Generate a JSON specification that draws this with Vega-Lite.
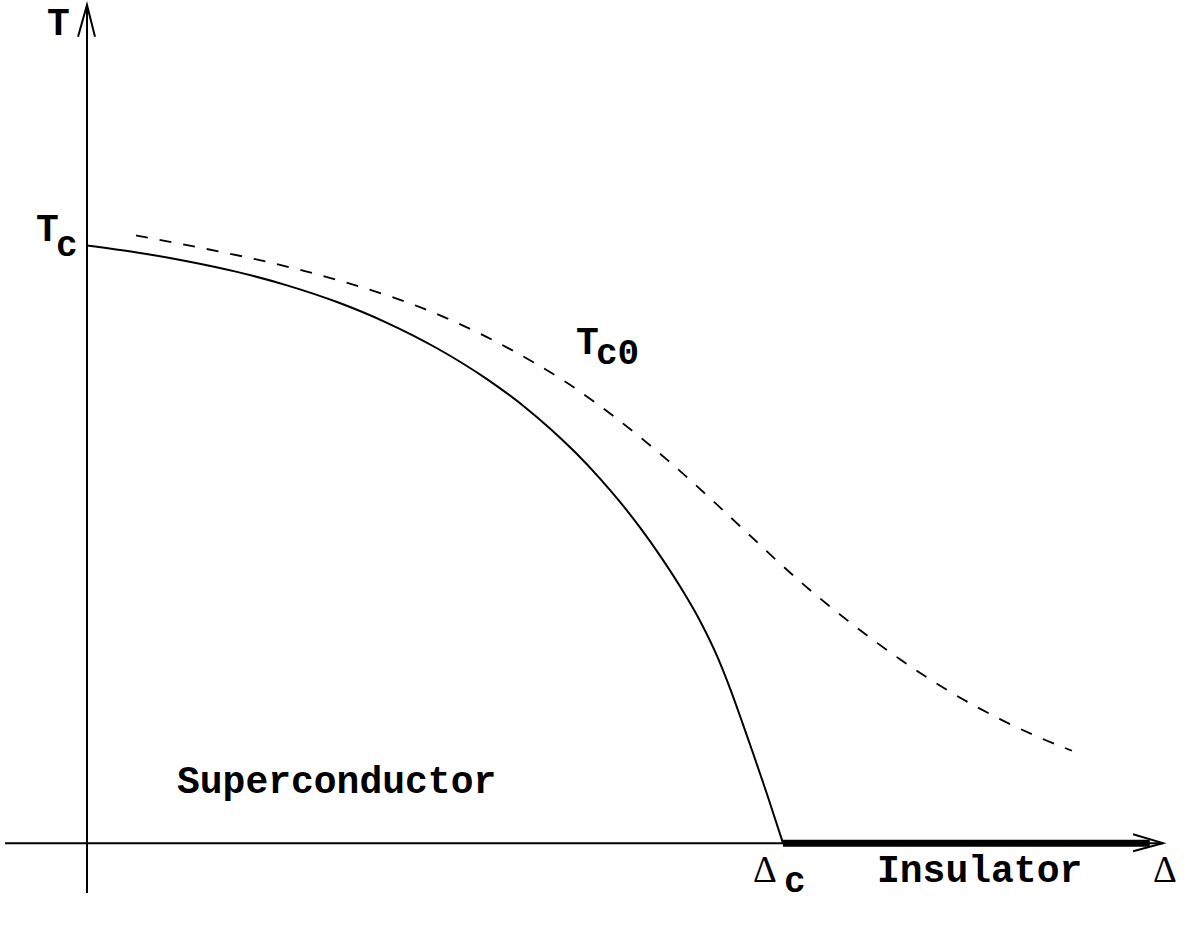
{
  "$schema": "https://vega.github.io/schema/vega-lite/v6.json",
  "width": 1187,
  "height": 926,
  "autosize": {"type": "fit", "contains": "padding"},
  "padding": 0,
  "background": "white",
  "config": {"view": {"stroke": null}},
  "datasets": {
    "axes": [
      {"part": "xaxis", "i": 0, "delta": -0.1178, "t": 0},
      {"part": "xaxis", "i": 1, "delta": 1.546, "t": 0},
      {"part": "yaxis", "i": 0, "delta": 0, "t": -0.0835},
      {"part": "yaxis", "i": 1, "delta": 0, "t": 1.4023},
      {"part": "xarrow", "i": 0, "delta": 1.503, "t": 0.015},
      {"part": "xarrow", "i": 1, "delta": 1.546, "t": 0},
      {"part": "xarrow", "i": 2, "delta": 1.503, "t": -0.0134},
      {"part": "yarrow", "i": 0, "delta": -0.0129, "t": 1.349},
      {"part": "yarrow", "i": 1, "delta": 0, "t": 1.4023},
      {"part": "yarrow", "i": 2, "delta": 0.0115, "t": 1.349}
    ],
    "insulator": [
      {"delta": 1.0, "t": 0},
      {"delta": 1.527, "t": 0}
    ],
    "tc": [
      {"delta": 0.0, "t": 1.0},
      {"delta": 0.0718, "t": 0.9883},
      {"delta": 0.1437, "t": 0.9737},
      {"delta": 0.2155, "t": 0.9558},
      {"delta": 0.2874, "t": 0.9332},
      {"delta": 0.3592, "t": 0.9053},
      {"delta": 0.431, "t": 0.8706},
      {"delta": 0.5029, "t": 0.828},
      {"delta": 0.5747, "t": 0.7763},
      {"delta": 0.6293, "t": 0.7294},
      {"delta": 0.6652, "t": 0.6938},
      {"delta": 0.7011, "t": 0.6543},
      {"delta": 0.7371, "t": 0.61},
      {"delta": 0.7658, "t": 0.571},
      {"delta": 0.7945, "t": 0.5282},
      {"delta": 0.8233, "t": 0.4811},
      {"delta": 0.852, "t": 0.4297},
      {"delta": 0.8807, "t": 0.3721},
      {"delta": 0.9052, "t": 0.3132},
      {"delta": 0.9239, "t": 0.2589},
      {"delta": 0.9425, "t": 0.1987},
      {"delta": 0.9569, "t": 0.1508},
      {"delta": 0.977, "t": 0.0823},
      {"delta": 1.0, "t": 0.0}
    ],
    "tc0": [
      {"delta": 0.0704, "t": 1.0167},
      {"delta": 0.1624, "t": 0.9963},
      {"delta": 0.2399, "t": 0.9775},
      {"delta": 0.3118, "t": 0.9574},
      {"delta": 0.3836, "t": 0.9341},
      {"delta": 0.4784, "t": 0.8967},
      {"delta": 0.533, "t": 0.8699},
      {"delta": 0.5747, "t": 0.8467},
      {"delta": 0.6178, "t": 0.8202},
      {"delta": 0.6897, "t": 0.7701},
      {"delta": 0.7615, "t": 0.71},
      {"delta": 0.8333, "t": 0.6416},
      {"delta": 0.9052, "t": 0.5664},
      {"delta": 0.9526, "t": 0.5147},
      {"delta": 1.0244, "t": 0.4379},
      {"delta": 1.0963, "t": 0.3694},
      {"delta": 1.1681, "t": 0.3077},
      {"delta": 1.2399, "t": 0.2534},
      {"delta": 1.3118, "t": 0.2075},
      {"delta": 1.3621, "t": 0.18},
      {"delta": 1.4152, "t": 0.1546}
    ],
    "labels": [
      {"label": "T", "delta": -0.0575, "t": 1.3523},
      {"label": "T", "delta": -0.0733, "t": 1.0067},
      {"label": "T", "delta": 0.7026, "t": 0.818},
      {"label": "Superconductor", "delta": 0.1293, "t": 0.0835},
      {"label": "Insulator", "delta": 1.1351, "t": -0.0651}
    ],
    "subs": [
      {"label": "c", "delta": -0.0445, "t": 0.9816},
      {"label": "c0", "delta": 0.7313, "t": 0.8013},
      {"label": "c", "delta": 1.0014, "t": -0.0818}
    ],
    "greek": [
      {"label": "Δ", "delta": 0.9569, "t": -0.0651},
      {"label": "Δ", "delta": 1.5316, "t": -0.0651}
    ]
  },
  "encoding": {
    "x": {"field": "delta", "type": "quantitative", "scale": {"domain": [-0.125, 1.5805], "nice": false, "zero": false}, "axis": null},
    "y": {"field": "t", "type": "quantitative", "scale": {"domain": [-0.1386, 1.4073], "nice": false, "zero": false}, "axis": null}
  },
  "layer": [
    {
      "data": {"name": "axes"},
      "mark": {"type": "line", "color": "black", "strokeWidth": 2},
      "encoding": {"detail": {"field": "part"}, "order": {"field": "i", "type": "quantitative"}}
    },
    {
      "data": {"name": "insulator"},
      "mark": {"type": "line", "color": "black", "strokeWidth": 7, "strokeCap": "butt"},
      "encoding": {}
    },
    {
      "data": {"name": "tc"},
      "mark": {"type": "line", "color": "black", "strokeWidth": 2, "interpolate": "monotone"},
      "encoding": {"order": {"field": "delta", "type": "quantitative"}}
    },
    {
      "data": {"name": "tc0"},
      "mark": {"type": "line", "color": "black", "strokeWidth": 1.8, "strokeDash": [12, 12], "interpolate": "monotone"},
      "encoding": {"order": {"field": "delta", "type": "quantitative"}}
    },
    {
      "data": {"name": "labels"},
      "mark": {"type": "text", "font": "Courier New, Courier, Nimbus Mono PS, FreeMono, Liberation Mono", "fontWeight": "bold", "fontSize": 38, "align": "left", "baseline": "alphabetic", "color": "black"},
      "encoding": {"text": {"field": "label"}}
    },
    {
      "data": {"name": "subs"},
      "mark": {"type": "text", "font": "Courier New, Courier, Nimbus Mono PS, FreeMono, Liberation Mono", "fontWeight": "bold", "fontSize": 36, "align": "left", "baseline": "alphabetic", "color": "black"},
      "encoding": {"text": {"field": "label"}}
    },
    {
      "data": {"name": "greek"},
      "mark": {"type": "text", "font": "Liberation Serif", "fontSize": 37, "align": "left", "baseline": "alphabetic", "color": "black"},
      "encoding": {"text": {"field": "label"}}
    }
  ]
}
